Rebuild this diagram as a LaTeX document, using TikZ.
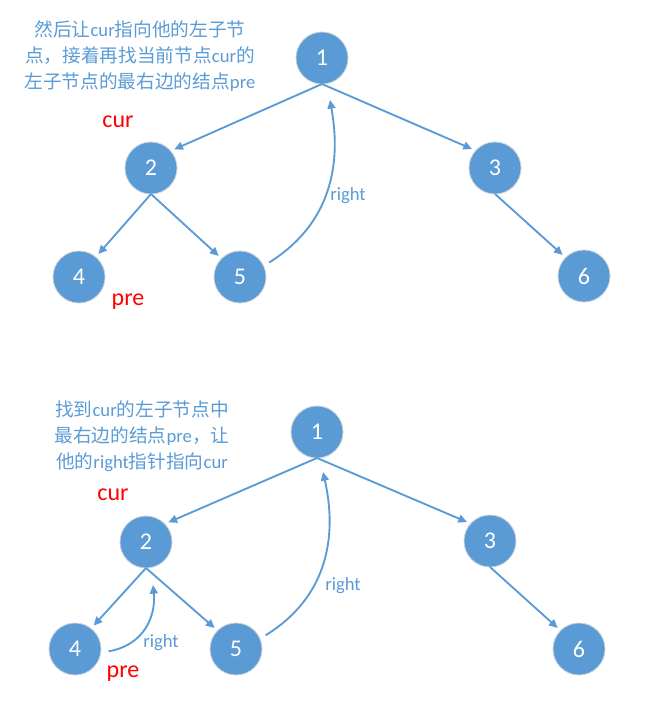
\documentclass[tikz,border=0pt]{standalone}
\usepackage{fontspec}
\setmainfont{Carlito}
\newfontfamily\cjk{Noto Sans CJK SC}
\usetikzlibrary{arrows.meta}
\definecolor{nblue}{RGB}{91,155,213}
\definecolor{ringgray}{RGB}{200,208,218}
\newcommand\zhs[1]{{\cjk #1}}
\begin{document}
\begin{tikzpicture}[x=0.75pt,y=-0.75pt,
  tnode/.style={circle,fill=nblue,draw=ringgray,line width=0.6pt,minimum size=39pt,inner sep=0pt,outer sep=0pt,text=white,font=\fontsize{18pt}{20pt}\selectfont},
  edge/.style={draw=nblue,line width=1.4pt,-{Triangle[length=6.5pt,width=6pt]},shorten >=3pt},
  curved/.style={draw=nblue,line width=1.4pt,-{Triangle[length=6.5pt,width=6pt]}},
  redlbl/.style={text=red,font=\fontsize{18pt}{20pt}\selectfont,anchor=base,inner sep=0pt},
  rlbl/.style={text=nblue,font=\fontsize{14pt}{16pt}\selectfont,anchor=base,inner sep=0pt},
  note/.style={text=nblue,font=\fontsize{14pt}{19.5pt}\selectfont,align=center,inner sep=0pt}]
\useasboundingbox (0,0) rectangle (650,709);

% ---------- top diagram ----------
\node[note] (noteA) at (140,56) {\zhs{然后让}cur\zhs{指向他的左子节}\\\zhs{点，接着再找当前节点}cur\zhs{的}\\\zhs{左子节点的最右边的结点}pre};
\node[tnode] (a1) at (322,58) {1};
\node[tnode] (a2) at (151,168) {2};
\node[tnode] (a3) at (495,168) {3};
\node[tnode] (a4) at (79,277) {4};
\node[tnode] (a5) at (240,277) {5};
\node[tnode] (a6) at (584,276) {6};
\node[redlbl] (curA) at (118,128) {cur};
\node[redlbl] (preA) at (128,305) {pre};
\node[rlbl] (rA) at (348,200) {right};
\coordinate (tA) at (330,100);

\draw[edge] (a1.south) -- (a2.41);
\draw[edge] (a1.south) -- (a3.138);
\draw[edge] (a2.south) -- (a4.50);
\draw[edge] (a2.south) -- (a5.135);
\draw[edge] (a3.south) -- (a6.135);
\draw[curved,shorten <=5pt] (a5.25) .. controls (345,215) and (337,140) .. (tA);

% ---------- bottom diagram ----------
\node[note] (noteB) at (142,436) {\zhs{找到}cur\zhs{的左子节点中}\\\zhs{最右边的结点}pre\zhs{，让}\\\zhs{他的}right\zhs{指针指向}cur};
\node[tnode] (b1) at (317,432) {1};
\node[tnode] (b2) at (146,542) {2};
\node[tnode] (b3) at (490,541) {3};
\node[tnode] (b4) at (75,649) {4};
\node[tnode] (b5) at (236,649) {5};
\node[tnode] (b6) at (579,649) {6};
\node[redlbl] (curB) at (113,500) {cur};
\node[redlbl] (preB) at (123,677) {pre};
\node[rlbl] (rB) at (343,590) {right};
\node[rlbl] (rC) at (161,647) {right};
\coordinate (tB) at (323,472);
\coordinate (tC) at (153,585);

\draw[edge] (b1.south) -- (b2.44);
\draw[edge] (b1.south) -- (b3.138);
\draw[edge] (b2.south) -- (b4.52);
\draw[edge] (b2.south) -- (b5.135);
\draw[edge] (b3.south) -- (b6.135);
\draw[curved,shorten <=5pt] (b5.23) .. controls (342,588) and (332,512) .. (tB);
\draw[curved,shorten <=6pt] (b4.-8) .. controls (145,645) and (156,615) .. (tC);
\end{tikzpicture}
\end{document}
